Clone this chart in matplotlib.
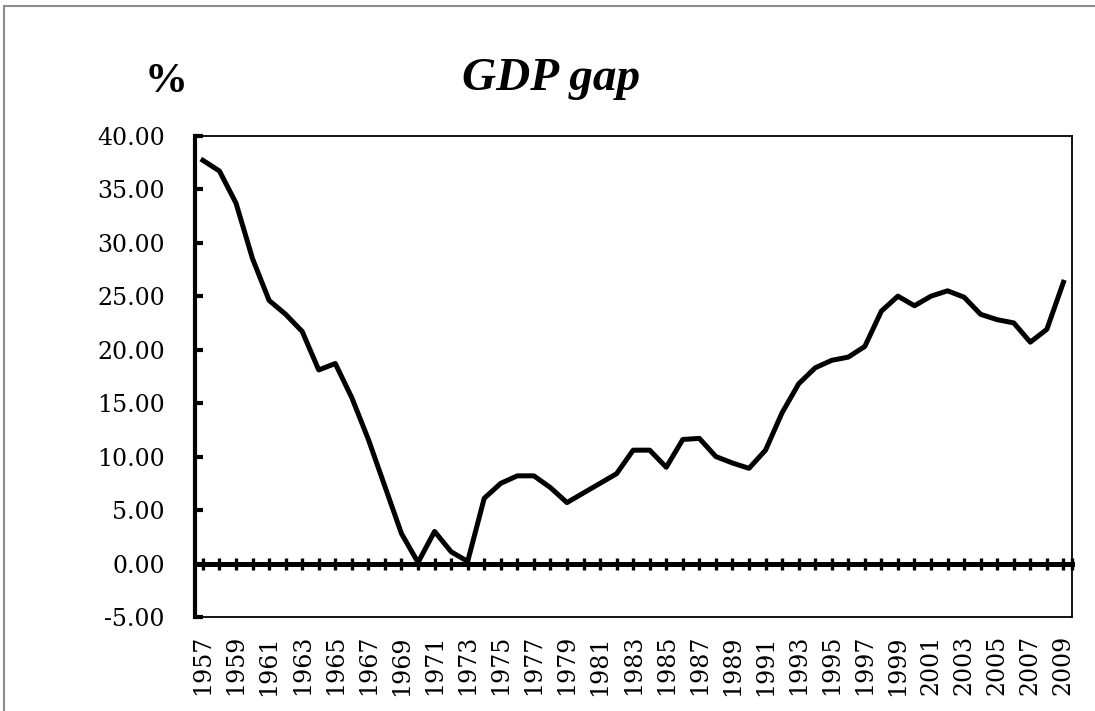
import numpy as np
import matplotlib.pyplot as plt
from matplotlib.patches import Rectangle

years = list(range(1957, 2010))
gdp_gap = [37.7, 36.7, 33.7, 28.5, 24.6, 23.3, 21.7, 18.1, 18.7, 15.5,
           11.6, 7.2, 2.8, 0.1, 3.0, 1.1, 0.2, 6.1, 7.5, 8.2,
           8.2, 7.1, 5.7, 6.6, 7.5, 8.4, 10.6, 10.6, 9.0, 11.6,
           11.7, 10.0, 9.4, 8.9, 10.6, 14.1, 16.8, 18.3, 19.0, 19.3,
           20.3, 23.6, 25.0, 24.1, 25.0, 25.5, 24.9, 23.3, 22.8, 22.5,
           20.7, 21.9, 26.3]
y_ticks = [-5, 0, 5, 10, 15, 20, 25, 30, 35, 40]
x_labels = [str(y) for y in years[::2]]

serif = 'DejaVu Serif'

fig = plt.figure(figsize=(10.95, 7.11), dpi=100)
ax = fig.add_axes([0.1785, 0.1322, 0.8002, 0.6769])

ax.plot(years, gdp_gap, color='black', lw=3.6, zorder=5)

ax.set_xlim(1956.55, 2009.5)
ax.set_ylim(-5, 40)

# y axis: thick left spine, ticks inside
ax.set_yticks(y_ticks)
ax.set_yticklabels(['{:.2f}'.format(v) for v in y_ticks], fontfamily=serif, fontsize=17)
ax.tick_params(axis='y', direction='in', length=6, width=3, pad=22)
ax.spines['left'].set_linewidth(3)
for s in ['top', 'right', 'bottom']:
    ax.spines[s].set_linewidth(1.3)

# x labels at the bottom, no ticks there
ax.set_xticks(years[::2])
ax.set_xticklabels(x_labels, rotation=90, fontfamily=serif, fontsize=17, va='top')
ax.tick_params(axis='x', length=0, pad=13)

# the category axis crosses at zero
zero_ax = ax.secondary_xaxis(0, transform=ax.transData)
zero_ax.set_xticks(years + [2009.5])
zero_ax.tick_params(axis='x', direction='inout', length=9, width=2.4, labelbottom=False)
zero_ax.spines['bottom'].set_linewidth(3.6)

fig.text(0.1516, 0.870, '%', fontfamily='Liberation Serif', fontweight='bold',
         fontsize=31, ha='center', va='baseline')
fig.text(0.503, 0.873, 'GDP gap', fontfamily='Liberation Serif', fontweight='bold',
         fontstyle='italic', fontsize=34, ha='center', va='baseline')

fig.add_artist(Rectangle((0.0041, -0.05), 1.2, 0.9918 + 0.05, transform=fig.transFigure,
                         fill=False, edgecolor='#8c8c8c', lw=1.5))

plt.savefig('out.png', dpi=100)
